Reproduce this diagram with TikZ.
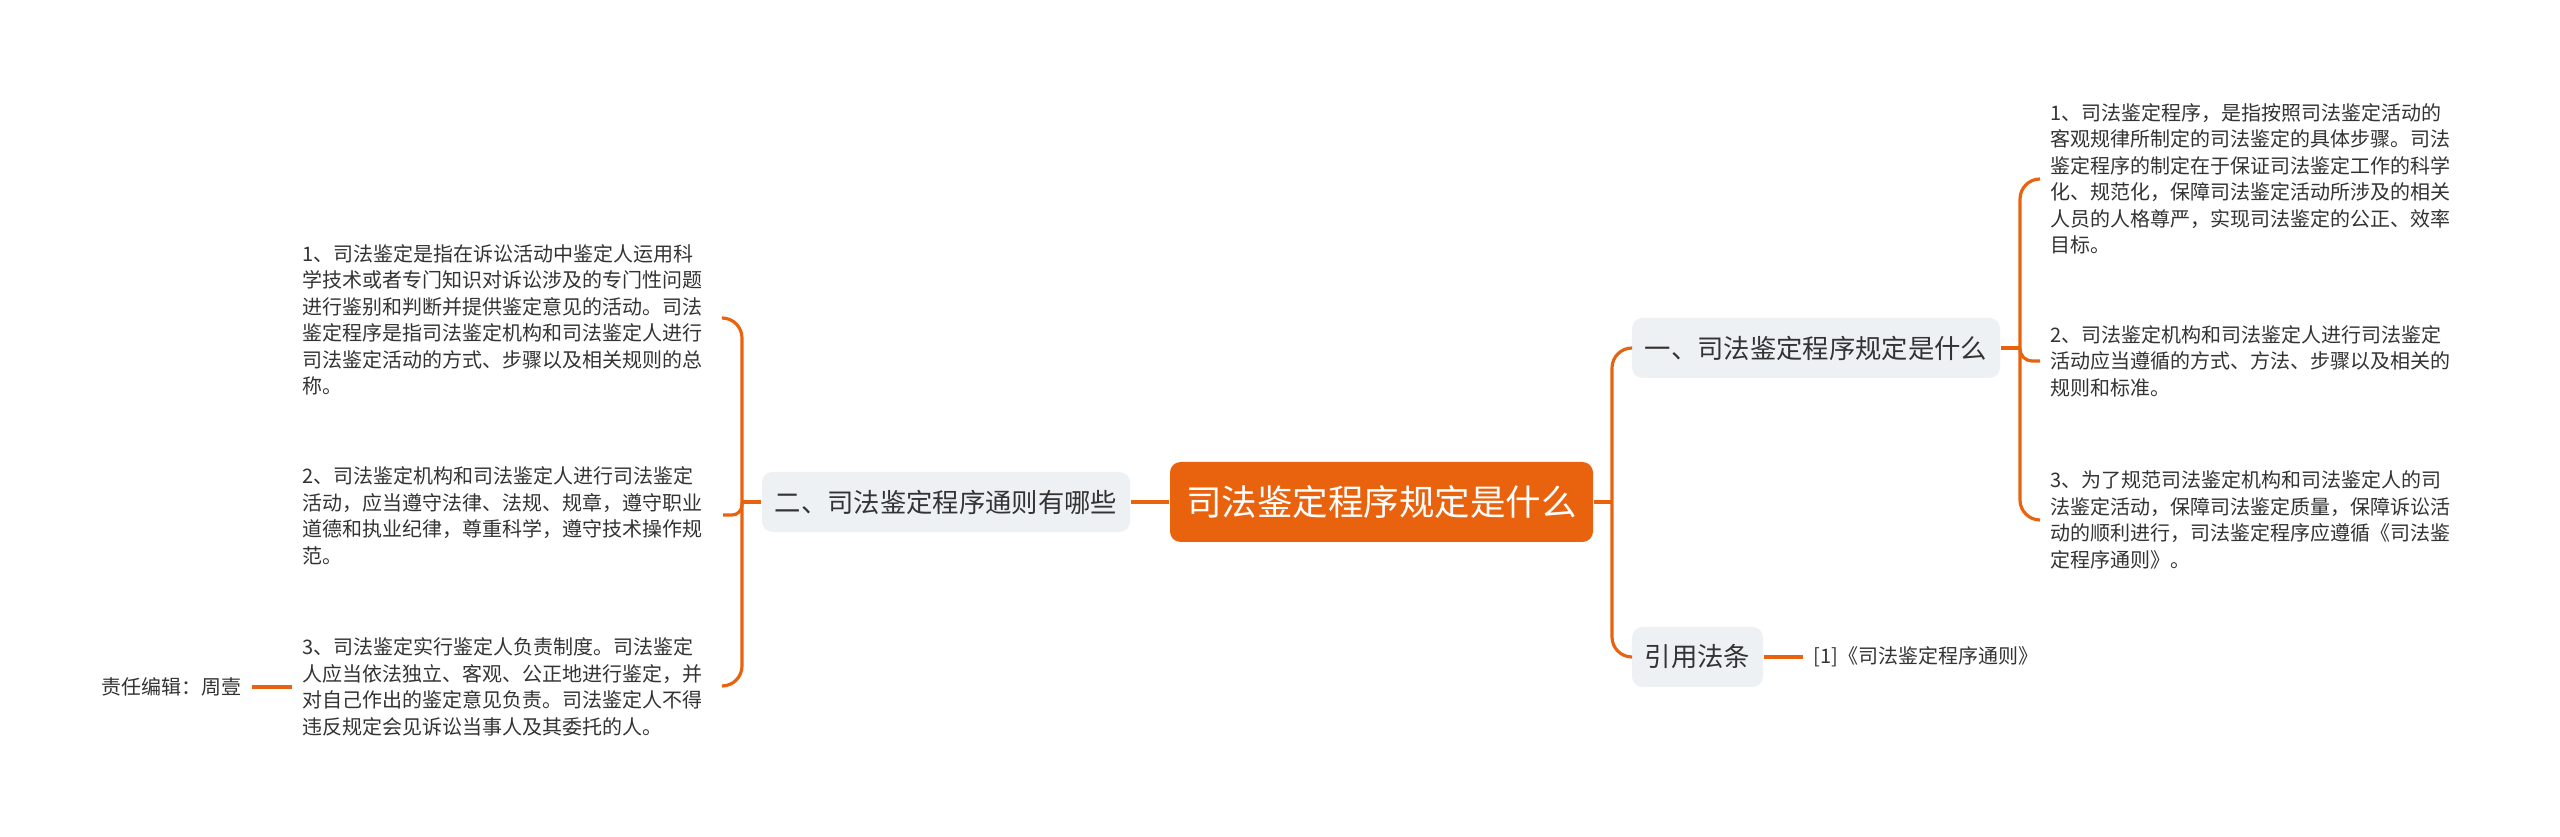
\documentclass[tikz,border=0pt]{standalone}
\usepackage{fontspec}
\setmainfont{Noto Sans CJK SC}
\usetikzlibrary{calc,positioning}
\definecolor{Ember}{HTML}{E9630F}
\definecolor{Cloud}{HTML}{EEF1F4}
\definecolor{Ink}{HTML}{333333}

\begin{document}
\begin{tikzpicture}[
    rootbox/.style={fill=Ember, text=white, rounded corners=3pt, minimum width=4.23cm, minimum height=0.8cm, inner xsep=2pt, font=\fontsize{10.1}{12}\selectfont},
    topicbox/.style={fill=Cloud, text=Ink, rounded corners=3pt, minimum height=0.6cm, font=\fontsize{7.5}{9}\selectfont},
    leaftext/.style={text=Ink, align=left, inner sep=0.1cm, font=\fontsize{5.69}{7.54}\selectfont},
    link/.style={draw=Ember, line width=0.9pt}
  ]
    \fill[white] (0,0) rectangle (25.6,8.37);
    \useasboundingbox (0,0) rectangle (25.6,8.37);
    \node[rootbox] (root) at (13.815,3.35) {司法鉴定程序规定是什么};
    \node[topicbox, minimum width=3.68cm] (rules) at (9.46,3.35) {二、司法鉴定程序通则有哪些};
    \node[topicbox, minimum width=3.68cm] (define) at (18.16,4.89) {一、司法鉴定程序规定是什么};
    \node[topicbox, minimum width=1.31cm] (cite) at (16.975,1.80) {引用法条};
    \node[leaftext, anchor=west] (citeref) at (18.03,1.80) {[1]《司法鉴定程序通则》};
    \node[leaftext, anchor=west] (defA) at (20.40,6.58) {1、司法鉴定程序，是指按照司法鉴定活动的\\客观规律所制定的司法鉴定的具体步骤。司法\\鉴定程序的制定在于保证司法鉴定工作的科学\\化、规范化，保障司法鉴定活动所涉及的相关\\人员的人格尊严，实现司法鉴定的公正、效率\\目标。};
    \node[leaftext, anchor=west] (defB) at (20.40,4.76) {2、司法鉴定机构和司法鉴定人进行司法鉴定\\活动应当遵循的方式、方法、步骤以及相关的\\规则和标准。};
    \node[leaftext, anchor=west] (defC) at (20.40,3.17) {3、为了规范司法鉴定机构和司法鉴定人的司\\法鉴定活动，保障司法鉴定质量，保障诉讼活\\动的顺利进行，司法鉴定程序应遵循《司法鉴\\定程序通则》。};
    \node[leaftext, anchor=west] (ruleA) at (2.92,5.17) {1、司法鉴定是指在诉讼活动中鉴定人运用科\\学技术或者专门知识对诉讼涉及的专门性问题\\进行鉴别和判断并提供鉴定意见的活动。司法\\鉴定程序是指司法鉴定机构和司法鉴定人进行\\司法鉴定活动的方式、步骤以及相关规则的总\\称。};
    \node[leaftext, anchor=west] (ruleB) at (2.92,3.21) {2、司法鉴定机构和司法鉴定人进行司法鉴定\\活动，应当遵守法律、法规、规章，遵守职业\\道德和执业纪律，尊重科学，遵守技术操作规\\范。};
    \node[leaftext, anchor=west] (ruleC) at (2.92,1.50) {3、司法鉴定实行鉴定人负责制度。司法鉴定\\人应当依法独立、客观、公正地进行鉴定，并\\对自己作出的鉴定意见负责。司法鉴定人不得\\违反规定会见诉讼当事人及其委托的人。};
    \node[leaftext, anchor=east] (editor) at (2.52,1.50) {责任编辑：周壹};
    \coordinate (jRoot) at (16.12,3.35);
    \coordinate (jDef) at (20.20,4.89);
    \coordinate (jRule) at (7.42,3.35);
    \coordinate (ruleAend) at (7.23,5.19);
    \coordinate (ruleBend) at (7.23,3.22);
    \coordinate (ruleCend) at (7.23,1.51);
    \draw[link] (root.west) -- (rules.east);
    \draw[link] (root.east) -- (jRoot);
    \draw[link, rounded corners=0.2cm] (define.west) -| (jRoot) |- (cite.west);
    \draw[link] (cite.east) -- (citeref.west);
    \draw[link] (define.east) -- (jDef);
    \draw[link, rounded corners=0.2cm] (defA.west) -| (jDef) |- (defC.west);
    \draw[link, rounded corners=0.12cm] (jDef) |- (defB.west);
    \draw[link] (rules.west) -- (jRule);
    \draw[link, rounded corners=0.2cm] (ruleAend) -| (jRule) |- (ruleCend);
    \draw[link, rounded corners=0.1cm] (ruleBend) -| (jRule);
    \draw[link] (editor.east) -- (ruleC.west);
  \end{tikzpicture}
\end{document}
